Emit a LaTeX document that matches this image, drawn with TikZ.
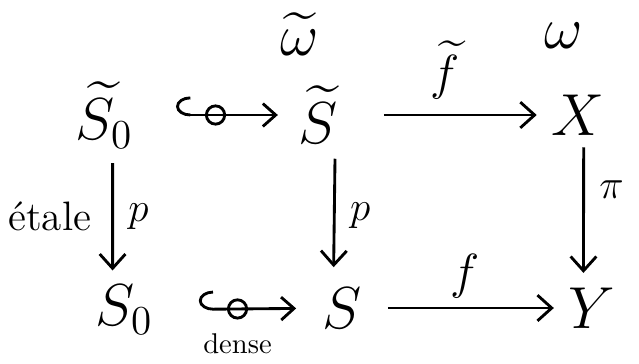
\documentclass[tikz,border=0pt]{standalone}
\usepackage{amsmath,amssymb}
\usetikzlibrary{arrows.meta,decorations.markings}
\tikzset{
  obj/.style={font=\huge,inner sep=1pt},
  lbl/.style={font=\Large,inner sep=1pt},
  mapto/.style={-{Straight Barb[length=5pt,width=9pt]},line width=1pt},
  incl/.style={{Hooks[right,length=5pt,width=13pt]}-{Straight Barb[length=4.5pt,width=8pt]},
               line width=1pt,postaction={decorate},
               decoration={markings,mark=at position 0.5 with {\draw (0,0) circle (3.2pt);}}}
}
\begin{document}
\begin{tikzpicture}[x=0.35pt,y=-0.35pt]
  \useasboundingbox (0,0) rectangle (639,363);
  % top row
  \node[obj] (sot) at (104,115) {$\widetilde{S_0}$};
  \node[obj] (st)  at (318,115) {$\widetilde{S}$};
  \node[obj] (x)   at (578,115) {$X$};
  % bottom row
  \node[obj] (so)  at (124,310) {$S_0$};
  \node[obj] (s)   at (342,308) {$S$};
  \node[obj] (y)   at (592,308) {$Y$};
  % forms above
  \node[obj] (wt)  at (300,34) {$\widetilde{\omega}$};
  \node[obj] (w)   at (564,36) {$\omega$};

  % horizontal maps
  \draw[incl,shorten <=14pt,shorten >=6pt] (sot) -- (st);
  \draw[mapto,shorten <=15pt,shorten >=4pt] (st) -- (x)
    node[font=\LARGE,inner sep=1pt,midway,above=4pt] (ftl) {$\widetilde{f}$};
  \draw[incl,shorten <=15pt,shorten >=8pt] (so) -- (s)
    node[font=\normalsize,inner sep=1pt,midway,below=7pt] (dense) {dense};
  \draw[mapto,shorten <=8pt,shorten >=4pt] (s) -- (y)
    node[font=\LARGE,inner sep=1pt,midway,above=2pt] (fl) {$f$};

  % vertical maps
  \draw[mapto,shorten <=4pt,shorten >=4pt] ([xshift=3pt]sot.south) -- ([xshift=-4pt]so.north)
    node[lbl,midway,left=6pt] (etale) {étale}
    node[lbl,midway,right=4pt] (p1) {$p$};
  \draw[mapto,shorten <=4pt,shorten >=6pt] ([xshift=6pt]st.south) -- ([xshift=-3pt]s.north)
    node[lbl,midway,right=4pt] (p2) {$p$};
  \draw[mapto,shorten <=3pt,shorten >=4pt] ([xshift=2pt]x.south) -- ([xshift=-3pt]y.north)
    node[lbl,pos=0.35,right=4pt] (pi) {$\pi$};
\end{tikzpicture}
\end{document}
